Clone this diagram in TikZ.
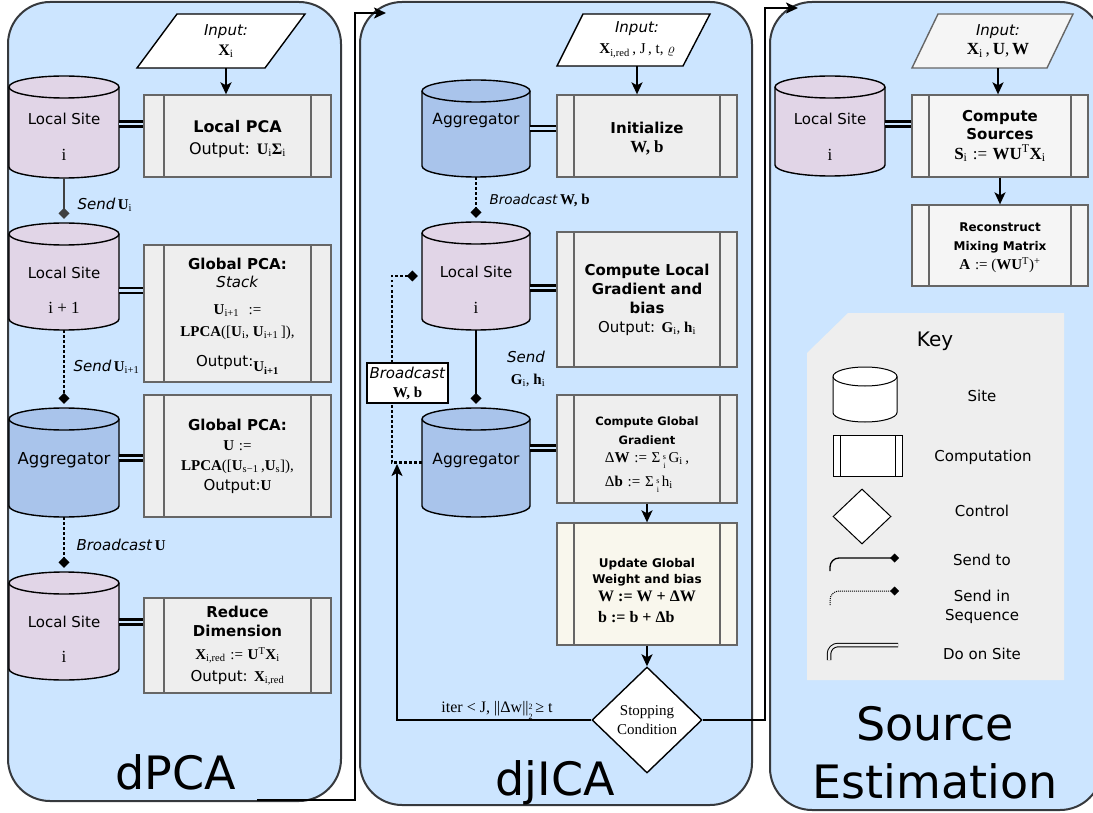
\documentclass[tikz,border=0pt]{standalone}
\usepackage{fontspec}
\setmainfont{DejaVu Sans}
\newfontfamily\tms{Liberation Serif}
\usetikzlibrary{arrows.meta,shapes.geometric}

\definecolor{panelfill}{HTML}{CCE5FF}
\definecolor{panelline}{HTML}{36393D}
\definecolor{sitefill}{HTML}{E1D5E7}
\definecolor{aggfill}{HTML}{A9C4EB}
\definecolor{compfill}{HTML}{EEEEEE}
\definecolor{compline}{HTML}{666666}
\definecolor{lightfill}{HTML}{F5F5F5}
\definecolor{updfill}{HTML}{F9F7ED}
\definecolor{keyfill}{HTML}{EEEEEE}
\definecolor{linkgray}{HTML}{404040}

\newcommand\fsz[2]{\fontsize{#1}{#2}\selectfont}
\newcommand\vb[1]{{\tms\bfseries\upshape #1}}
\newcommand\vn[1]{{\tms\mdseries\upshape #1}}
\newcommand\lsub[1]{\textsubscript{\tms\mdseries\upshape #1}}
\newcommand\lsup[1]{\textsuperscript{\tms\mdseries\upshape #1}}
% upper and lower index set one above the other
\newcommand\stk[2]{\raisebox{-0.8ex}{\fsz{8}{8}\tms\mdseries\upshape\shortstack{#1\\[1.5pt]#2}}}
\newcommand\sumsi{\vn{Σ}\,\stk{s}{i}\,}

% cylinder: name, left x, right x, top y, bottom y, fill, ellipse half-height
\newcommand\drum[7]{%
  \draw[drumline, fill=#6] (#2,#4+#7) -- (#2,#5-#7)
    arc[start angle=180, end angle=0, x radius={(#3-#2)/2}, y radius=#7]
    -- (#3,#4+#7)
    arc[start angle=0, end angle=-180, x radius={(#3-#2)/2}, y radius=#7] -- cycle;
  \draw[drumline] (#2,#4+#7)
    arc[start angle=180, end angle=0, x radius={(#3-#2)/2}, y radius=#7];
  \node[inner sep=0pt, minimum width={(#3-#2)*1pt}, minimum height={(#5-#4)*1pt}]
    (#1) at ({(#2+#3)/2},{(#4+#5)/2}) {};
}

\tikzset{
  panel/.style={draw=panelline, line width=2pt, fill=panelfill, rounded corners=42pt, inner sep=0pt},
  drumline/.style={line width=1.4pt, draw=black},
  compbox/.style={draw=compline, line width=1.3pt, fill=compfill, inner sep=0pt, align=center,
    path picture={\draw[draw=compline, line width=1.3pt]
      ([xshift=#1]path picture bounding box.north west) -- ([xshift=#1]path picture bounding box.south west)
      ([xshift=-#1]path picture bounding box.north east) -- ([xshift=-#1]path picture bounding box.south east);}},
  compbox/.default=18pt,
  keybox/.style={draw=black, line width=1pt, fill=white, inner sep=0pt,
    path picture={\draw[line width=1pt]
      ([xshift=7pt]path picture bounding box.north west) -- ([xshift=7pt]path picture bounding box.south west)
      ([xshift=-7pt]path picture bounding box.north east) -- ([xshift=-7pt]path picture bounding box.south east);}},
  link/.style={line width=2pt, -{Diamond[length=11pt,width=11pt]}},
  seqlink/.style={link, dash pattern=on 2.5pt off 2.5pt, line width=2.5pt},
  onsite/.style={draw=black, line width=2.4pt, double=panelfill, double distance=2.4pt},
  flow/.style={line width=2pt, -{Stealth[length=12pt,width=11pt,inset=3pt]}},
  inshape/.style={line width=1.4pt, fill=white},
}

\begin{document}
\begin{tikzpicture}[x=1pt, y=-1pt, every node/.style={font=\fsz{15}{18}}]
\useasboundingbox (0,0) rectangle (1093,813);

% ---------- the three stages ----------
\node[panel, minimum width=333pt, minimum height=799pt] (p1) at (174.5,401.5) {};
\node[panel, minimum width=392pt, minimum height=803pt] (p2) at (556,403.5) {};
\node[panel, minimum width=332pt, minimum height=808pt] (p3) at (936,406) {};

\coordinate (p1out) at (257,800);
\coordinate (p2in) at (386,13);
\coordinate (p3in) at (798,8);
\draw[flow] (p1out) -| (355,13) -- (p2in);

% ---------- dPCA ----------
\draw[inshape] (137,68) -- (177,14) -- (305,14) -- (265,68) -- cycle;
\node[align=center, minimum height=54pt, inner sep=0pt] (in1) at (226,41)
  {\textit{Input:}\\[2pt]{\fsz{16}{18}\vb{X}\lsub{i}}};
\node[compbox=20pt, minimum width=187pt, minimum height=82pt, font=\fsz{16}{22}] (lpca) at (237.5,136)
  {\rule{0pt}{18pt}\textbf{Local PCA}\\Output: \vb{U}\lsub{i}\vb{Σ}\lsub{i}};
\drum{s1}{9}{119}{76}{178}{sitefill}{11}
\node (s1a) at (64,119) {Local Site};
\node (s1b) at (64,155) {\fsz{17}{20}\vn{i}};
\draw[onsite] ([yshift=3pt]s1.east) -- ([yshift=3pt]s1.east -| lpca.west);

\drum{s2}{9}{119}{223}{330}{sitefill}{11}
\node (s2a) at (64,273) {Local Site};
\node (s2b) at (64,308) {\fsz{17}{20}\vn{i + 1}};
\node[compbox=20pt, minimum width=187pt, minimum height=137pt, font=\fsz{15}{18}] (gp1) at (237.5,313.5)
  {\rule{0pt}{17pt}\textbf{Global PCA:}\\\textit{Stack}\\[9pt]
   \vb{U}\lsub{i+1}\ \ \vn{:=}\\[4pt]
   \vb{LPCA}\vn{([}\vb{U}\lsub{i}\vn{, }\vb{U}\lsub{i+1}\vn{\,]),}\\[12pt]
   Output:\raisebox{-5pt}{\vb{U\textsubscript{i+1}}}};
\draw[onsite] ([yshift=-14pt]s2.east) -- ([yshift=-14pt]s2.east -| gp1.west);

\drum{a1}{9}{119}{408}{517}{aggfill}{11}
\node (a1a) at (64,460) {\fsz{16.5}{19}Aggregator};
\node[compbox=20pt, minimum width=187pt, minimum height=122pt, font=\fsz{15}{20}] (gp2) at (237.5,456)
  {\textbf{Global PCA:}\\\vb{U} \vn{:=}\\
   \vb{LPCA}\vn{([}\vb{U}\lsub{s−1}\vn{\,,}\vb{U}\lsub{s}\vn{]),}\\
   Output:\vb{U}};
\draw[onsite] ([yshift=4.5pt]a1.east) -- ([yshift=4.5pt]a1.east -| gp2.west);

\drum{s4}{9}{119}{572}{680}{sitefill}{11}
\node (s4a) at (64,622) {Local Site};
\node (s4b) at (64,657) {\fsz{17}{20}\vn{i}};
\node[compbox=20pt, minimum width=187pt, minimum height=95pt, font=\fsz{15}{19}] (rd) at (237.5,645.5)
  {\textbf{Reduce}\\\textbf{Dimension}\\[4pt]
   \vb{X}\lsub{i,red} \vn{:=} \vb{U}\lsup{T}\vb{X}\lsub{i}\\[3pt]
   Output: \vb{X}\lsub{i,red}};
\draw[onsite] ([yshift=4pt]s4.east) -- ([yshift=4pt]s4.east -| rd.west);

\draw[flow] (in1.south) -- (in1.south |- lpca.north);
\draw[link, draw=linkgray] (s1.south) -- ([yshift=4pt]s2.north);
\node[anchor=west] (l1) at (74,205) {\textit{Send}\,\vb{U}\lsub{i}};
\draw[seqlink] (s2.south) -- ([yshift=4pt]a1.north);
\node[anchor=west] (l2) at (70,367) {\textit{Send}\,\vb{U}\lsub{i+1}};
\draw[seqlink] (a1.south) -- ([yshift=4pt]s4.north);
\node[anchor=west] (l3) at (73,545) {\textit{Broadcast}\,\vb{U}};

\node[anchor=base, font=\fsz{46}{50}] (t1) at (176,789) {dPCA};

% ---------- djICA ----------
\draw[inshape] (557,66) -- (583,14) -- (710,14) -- (683,66) -- cycle;
\node[align=center, minimum height=52pt, inner sep=0pt] (in2) at (637,40)
  {\textit{Input:}\\[3pt]\vb{X}\lsub{i,red}\vn{\,, J\,, t, }$\varrho$};
\node[compbox=17pt, minimum width=180pt, minimum height=82pt, font=\fsz{15}{19}] (ini) at (647,136)
  {\rule{0pt}{17pt}\textbf{Initialize}\\{\fsz{17}{19}\vb{W, b}}};
\drum{a2}{422}{530}{80}{177}{aggfill}{11}
\node (a2a) at (476,120) {\fsz{15.5}{18}Aggregator};
\draw[onsite] (a2.east) -- (a2.east -| ini.west);

\drum{s5}{422}{530}{222}{330}{sitefill}{11}
\node (s5a) at (476,272) {Local Site};
\node (s5b) at (476,308) {\fsz{17}{20}\vn{i}};
\node[compbox=17pt, minimum width=180pt, minimum height=135pt, font=\fsz{15}{19}] (lg) at (647,299.5)
  {\textbf{Compute Local}\\\textbf{Gradient and}\\\textbf{bias}\\Output: \vb{G}\lsub{i}\vn{, }\vb{h}\lsub{i}};
\draw[onsite] ([yshift=-12pt]s5.east) -- ([yshift=-12pt]s5.east -| lg.west);

\drum{a3}{422}{530}{408}{517}{aggfill}{11}
\node (a3a) at (476,460) {\fsz{15.5}{18}Aggregator};
\node[compbox=17pt, minimum width=180pt, minimum height=108pt, font=\fsz{11.5}{19}] (gg) at (647,449)
  {\rule{0pt}{21pt}\textbf{Compute Global}\\\textbf{Gradient}\\
   {\fsz{15}{24}\begin{tabular}{@{}l@{}}
     \vn{Δ}\vb{W} \vn{:=} \sumsi\vn{G}\lsub{i}\vn{\,,}\\
     \vn{Δ}\vb{b} \vn{:=} \sumsi\vn{h}\lsub{i}
   \end{tabular}}};
\draw[onsite] ([yshift=14.5pt]a3.east) -- ([yshift=14.5pt]a3.east -| gg.west);

\node[compbox=17pt, fill=updfill, minimum width=180pt, minimum height=122pt, font=\fsz{12}{16}] (up) at (647,584)
  {\rule{0pt}{28pt}\textbf{Update Global}\\\textbf{Weight and bias}\\
   {\fsz{16}{21}\begin{tabular}{@{}l@{}}
     \vb{W := W + ΔW}\\
     \vb{b := b + Δb}
   \end{tabular}}};
\node[diamond, draw, line width=1.4pt, fill=white, minimum width=110pt, minimum height=106pt,
      inner sep=0pt, align=center, font=\fsz{15}{19}] (stop) at (647,720)
  {\vn{Stopping}\\\vn{Condition}};

\draw[flow] (in2.south) -- (in2.south |- ini.north);
\draw[seqlink] (a2.south) -- ([yshift=4pt]s5.north);
\node[anchor=west] (l4) at (486,200) {\fsz{13.5}{16}\textit{Broadcast}\,{\fsz{15}{16}\vb{W, b}}};
\draw[link] (s5.south) -- ([yshift=4pt]a3.north);
\node (l5) at (526,357) {\textit{Send}};
\node (l6) at (528,380) {\vb{G}\lsub{i}\vn{, }\vb{h}\lsub{i}};
\draw[flow] (gg.south) -- (up.north);
\draw[flow] (up.south) -- (stop.north);
\coordinate (loopin) at (397,464);
\draw[flow] (stop.west) -| (loopin);
\node (l7) at (497,710) {\fsz{16}{18}\vn{iter < J, ||Δw||}\stk{2}{2}\,\vn{≥ t}};
\draw[seqlink] (a3.west) -| ([xshift=-30pt]s5.west) -- ([xshift=-4pt]s5.west);
\node[draw, line width=1.8pt, fill=white, minimum width=81pt, minimum height=40pt, inner sep=0pt,
      align=center, font=\fsz{15}{19}] (bc) at (407.5,383) {\textit{Broadcast}\\\vb{W, b}};

\node[anchor=base, font=\fsz{46}{50}] (t2) at (555,795) {djICA};
\draw[flow] (stop.east) -| (765,8) -- (p3in);

% ---------- Source Estimation ----------
\draw[inshape, draw=compline, fill=lightfill] (912,68) -- (938,14) -- (1073,14) -- (1047,68) -- cycle;
\node[align=center, minimum height=54pt, inner sep=0pt] (in3) at (998,41)
  {\textit{Input:}\\[1pt]{\fsz{17}{19}\vb{X}\lsub{i}\vn{\,,}\,\vb{U}\vn{,}\,\vb{W}}};
\node[compbox=17pt, fill=lightfill, minimum width=176pt, minimum height=82pt, font=\fsz{15}{18}] (cs) at (1000,136)
  {\textbf{Compute}\\\textbf{Sources}\\[2pt]{\fsz{17}{20}\vb{S}\lsub{i} \vn{:=} \vb{WU}\lsup{T}\vb{X}\lsub{i}}};
\node[compbox=17pt, fill=lightfill, minimum width=176pt, minimum height=81pt, font=\fsz{12}{19}] (rc) at (1000,245.5)
  {\rule{0pt}{14pt}\textbf{Reconstruct}\\\textbf{Mixing Matrix}\\{\fsz{15}{18}\vb{A} \vn{:= (}\vb{WU}\lsup{T}\vn{)}\lsup{+}}};
\drum{s6}{775}{885}{76}{176}{sitefill}{11}
\node (s6a) at (830,119) {Local Site};
\node (s6b) at (830,155) {\fsz{17}{20}\vn{i}};
\draw[onsite] ([yshift=2pt]s6.east) -- ([yshift=2pt]s6.east -| cs.west);
\draw[flow] (in3.south) -- (in3.south |- cs.north);
\draw[flow] (cs.south) -- (rc.north);

% legend
\fill[keyfill] (807,353) -- (848,313) -- (1064,313) -- (1064,680) -- (807,680) -- cycle;
\node[font=\fsz{20}{24}] (key) at (935,341) {Key};
\begin{scope}[drumline/.style={line width=1pt, draw=black}]
  \drum{ksite}{833}{897}{367}{422}{white}{9.5}
\end{scope}
\node (ksitel) at (982,396) {Site};
\node[keybox, minimum width=69pt, minimum height=41pt] (kcomp) at (867.5,455.5) {};
\node (kcompl) at (983,457) {Computation};
\node[diamond, draw, line width=1pt, fill=white, minimum width=58pt, minimum height=55pt, inner sep=0pt] (kctl) at (862,516.5) {};
\node (kctll) at (982,511) {Control};
\coordinate (ka1) at (830,571);
\coordinate (kb1) at (899,558);
\draw[line width=1.3pt, rounded corners=9pt, -{Diamond[length=9pt,width=9pt]}] (ka1) |- (kb1);
\node (ksendl) at (982,560) {Send to};
\coordinate (ka2) at (830,605);
\coordinate (kb2) at (899,591);
\draw[line width=1pt, dash pattern=on 1pt off 1pt, rounded corners=9pt, -{Diamond[length=9pt,width=9pt]}] (ka2) |- (kb2);
\node[align=center, font=\fsz{15}{19}] (kseql) at (982,606.5) {Send in\\Sequence};
\coordinate (ka3) at (829,660);
\coordinate (kb3) at (898,645);
\draw[line width=1pt, double=keyfill, double distance=2.5pt, rounded corners=9pt] (ka3) |- (kb3);
\node (kdol) at (982,654) {Do on Site};

\node[anchor=base, font=\fsz{46}{52}] (t3a) at (935,740) {Source};
\node[anchor=base, font=\fsz{46}{52}] (t3b) at (935,798) {Estimation};
\end{tikzpicture}
\end{document}
